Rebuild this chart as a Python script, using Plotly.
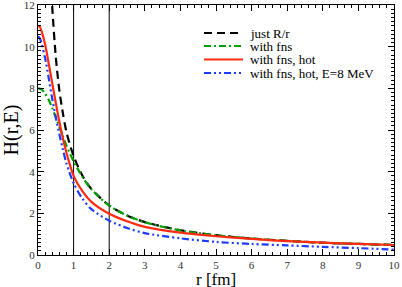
import plotly.graph_objects as go

# data
r_black = [0.36, 0.4, 0.5, 0.6, 0.7, 0.8, 1.0, 1.25, 1.5, 2.0, 2.5, 3.0, 4.0, 5.0, 6.0, 7.0, 8.0, 9.0, 10.0]
h_black = [13.2, 11.9, 9.5, 7.9, 6.8, 5.9, 4.75, 3.8, 3.17, 2.38, 1.9, 1.58, 1.19, 0.95, 0.79, 0.68, 0.59, 0.53, 0.48]

r_green = [0.0, 0.1, 0.2, 0.3, 0.4, 0.5, 0.6, 0.7, 0.8, 1.0, 1.25, 1.5, 2.0, 2.5, 3.0, 4.0, 5.0, 6.0, 7.0, 8.0, 9.0, 10.0]
h_green = [8.0, 7.95, 7.75, 7.45, 7.05, 6.6, 6.15, 5.7, 5.25, 4.5, 3.75, 3.15, 2.37, 1.9, 1.57, 1.18, 0.95, 0.79, 0.68, 0.59, 0.53, 0.48]

r_red = [0.0, 0.05, 0.1, 0.2, 0.3, 0.4, 0.5, 0.6, 0.7, 0.8, 1.0, 1.25, 1.5, 2.0, 2.5, 3.0, 4.0, 5.0, 6.0, 7.0, 8.0, 9.0, 10.0]
h_red = [11.0, 10.95, 10.75, 10.1, 9.2, 8.25, 7.3, 6.4, 5.6, 4.9, 3.8, 3.05, 2.55, 1.98, 1.62, 1.35, 1.07, 0.9, 0.77, 0.67, 0.59, 0.53, 0.48]

r_blue = [0.0, 0.05, 0.1, 0.2, 0.3, 0.4, 0.5, 0.6, 0.7, 0.8, 1.0, 1.25, 1.5, 2.0, 2.5, 3.0, 4.0, 5.0, 6.0, 7.0, 8.0, 9.0, 10.0]
h_blue = [10.5, 10.4, 10.15, 9.45, 8.5, 7.5, 6.6, 5.8, 5.05, 4.4, 3.45, 2.7, 2.2, 1.65, 1.3, 1.05, 0.8, 0.63, 0.53, 0.46, 0.39, 0.33, 0.26]

names = ["just R/r", "with fns", "with fns, hot", "with fns, hot, E=8 MeV"]
vlines = [1, 2]
x_ticks = list(range(0, 11))
y_ticks = list(range(0, 13, 2))
x_title = "r [fm]"
y_title = "H(r,E)"

SERIF = "Liberation Serif"

# figure geometry (pixels)
W, H = 402, 287
ML, MR, MT, MB = 38, 8, 5, 32
PW, PH = W - ML - MR, H - MT - MB


def px_to_paper(px, py):
    return (px - ML) / PW, (H - MB - py) / PH


fig = go.Figure()
series = [
    (r_black, h_black, names[0], "black", "8px,5px"),
    (r_green, h_green, names[1], "#00a000", "7px,3px,2px,3px"),
    (r_red, h_red, names[2], "#ff2a10", "solid"),
    (r_blue, h_blue, names[3], "#1a3cff", "7px,3px,2px,3px,2px,3px"),
]
for xs, ys, nm, col, dash in series:
    fig.add_trace(go.Scatter(x=xs, y=ys, name=nm, mode="lines", showlegend=False,
                             line=dict(color=col, width=2.2, dash=dash, shape="spline", smoothing=0.8)))

for v in vlines:
    fig.add_shape(type="line", x0=v, x1=v, y0=0, y1=1, xref="x", yref="paper",
                  line=dict(color="black", width=1), layer="below")

# hand-drawn legend (compact row spacing like the reference)
leg_rows_py = [33, 46, 59.5, 73]
for (xs, ys, nm, col, dash), py in zip(series, leg_rows_py):
    x0, y0 = px_to_paper(204, py)
    x1, _ = px_to_paper(243, py)
    xt, _ = px_to_paper(249, py)
    fig.add_shape(type="line", x0=x0, x1=x1, y0=y0, y1=y0, xref="paper", yref="paper",
                  line=dict(color=col, width=2.2, dash=dash))
    fig.add_annotation(x=xt, y=y0, xref="paper", yref="paper", text=nm, showarrow=False,
                       xanchor="left", yanchor="middle", borderpad=0,
                       font=dict(family=SERIF, size=13, color="black"))

# x-axis title placed as annotation (below tick labels)
_, yt = px_to_paper(0, 279.5)
fig.add_annotation(x=0.5, y=yt, xref="paper", yref="paper", text=x_title, showarrow=False,
                   xanchor="center", yanchor="middle", borderpad=0,
                   font=dict(family=SERIF, size=17, color="black"))

axis_common = dict(showgrid=False, zeroline=False, showline=True, linecolor="black", linewidth=1,
                   mirror="ticks", ticks="inside", ticklen=6, tickcolor="black", automargin=False,
                   ticklabeloverflow="allow",
                   tickfont=dict(family=SERIF, size=11, color="#333"))

fig.update_xaxes(range=[0, 10], tickvals=x_ticks,
                 minor=dict(dtick=0.2, ticks="inside", ticklen=3, tickcolor="black"),
                 **axis_common)
fig.update_yaxes(range=[0, 12], tickvals=y_ticks,
                 minor=dict(dtick=0.2, ticks="inside", ticklen=3, tickcolor="black"),
                 title=dict(text=y_title, font=dict(family=SERIF, size=20, color="black"), standoff=4),
                 **axis_common)

fig.update_layout(
    width=W, height=H,
    margin=dict(l=ML, r=MR, t=MT, b=MB, autoexpand=False),
    plot_bgcolor="white", paper_bgcolor="white",
    font=dict(family=SERIF, color="black"),
    showlegend=False,
)

fig.write_html("out.html", config={"displayModeBar": False},
               post_script="document.body.style.margin='0';document.body.style.overflow='hidden';")
